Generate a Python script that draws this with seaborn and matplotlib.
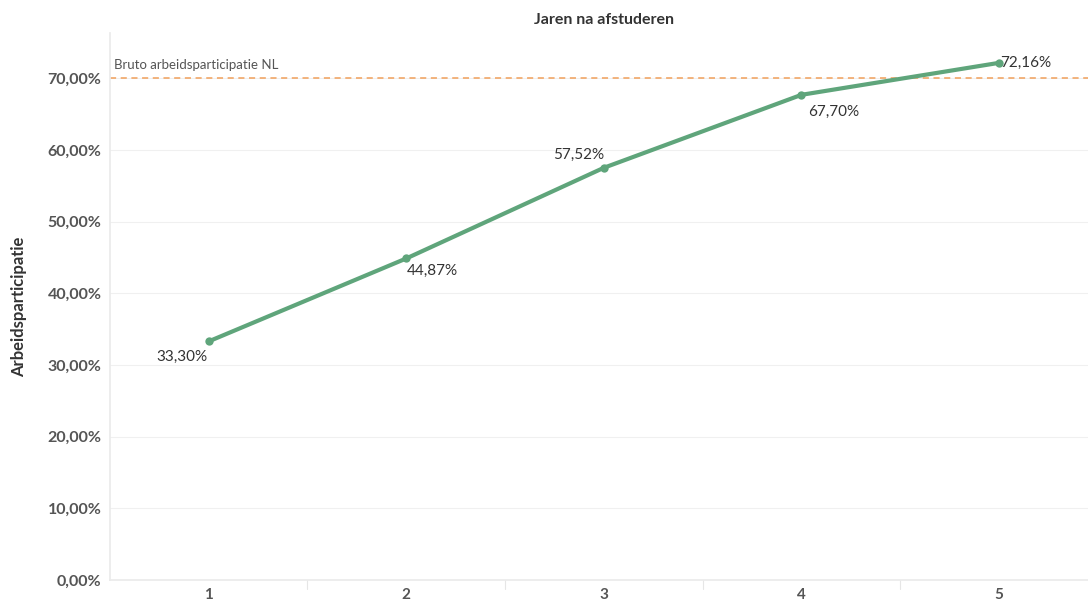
import matplotlib
matplotlib.use("Agg")
import matplotlib.pyplot as plt
import seaborn as sns
import pandas as pd

years = [1, 2, 3, 4, 5]
participation = [33.30, 44.87, 57.52, 67.70, 72.16]
label_texts = ["33,30%", "44,87%", "57,52%", "67,70%", "72,16%"]
ref_value = 70.0
ref_label = "Bruto arbeidsparticipatie NL"
y_ticks = [0, 10, 20, 30, 40, 50, 60, 70]
y_tick_labels = ["0,00%", "10,00%", "20,00%", "30,00%", "40,00%", "50,00%", "60,00%", "70,00%"]

sns.set_theme(style="white")
plt.rcParams['font.family'] = ['Lato', 'DejaVu Sans']

df = pd.DataFrame({"jaar": years, "pct": participation})

fig = plt.figure(figsize=(10.88, 6.03), dpi=100)
ax = fig.add_axes([0.101, 0.038, 0.899, 0.907])

line_color = "#5fa57b"
sns.lineplot(data=df, x="jaar", y="pct", ax=ax, color=line_color, linewidth=3,
             marker="o", markersize=6, markeredgewidth=0, zorder=3)

ax.axhline(ref_value, color="#f0a05a", linestyle=(0, (4, 3)), linewidth=1.1, zorder=2)
ax.text(0.52, ref_value + 1.0, ref_label, fontsize=9.5, color="#555555", ha="left", va="bottom")

# label offsets (in points)
offsets = [(-1, -6, "right", "top"), (0, -4, "left", "top"), (0, 4, "right", "bottom"),
           (5, -7, "left", "top"), (1, 0, "left", "center")]
for x, y, t, (dx, dy, ha, va) in zip(years, participation, label_texts, offsets):
    ax.annotate(t, (x, y), xytext=(dx, dy), textcoords="offset points",
                ha=ha, va=va, fontsize=11, color="#333333")

ax.set_xlim(0.5, 5.45)
ax.set_ylim(0, 76.3)
ax.set_xticks(years)
ax.set_xticklabels([str(v) for v in years], fontsize=11, fontweight="bold", color="#555555")
ax.set_yticks(y_ticks)
ax.set_yticklabels(y_tick_labels, fontsize=11.5, fontweight="bold", color="#555555")
ax.tick_params(axis="both", length=0, pad=6)
ax.set_xlabel("")
ax.set_ylabel("Arbeidsparticipatie", fontsize=12, fontweight="bold", color="#333333")
ax.yaxis.set_label_coords(-0.085, 0.5)

for v in y_ticks[1:]:
    ax.axhline(v, color="#f0f0f0", linewidth=0.8, zorder=0)
for s in ["top", "right"]:
    ax.spines[s].set_visible(False)
ax.spines["left"].set_color("#ebebeb")
ax.spines["bottom"].set_color("#ebebeb")

# band separators below the axis
for xb in [1.5, 2.5, 3.5, 4.5]:
    ax.plot([xb, xb], [0, -1.2], color="#e6e6e6", linewidth=0.8, clip_on=False)

fig.text(0.555, 0.967, "Jaren na afstuderen", ha="center", va="center",
         fontsize=11.5, fontweight="bold", color="#333333")

fig.savefig("out.png", dpi=100, facecolor="white")
